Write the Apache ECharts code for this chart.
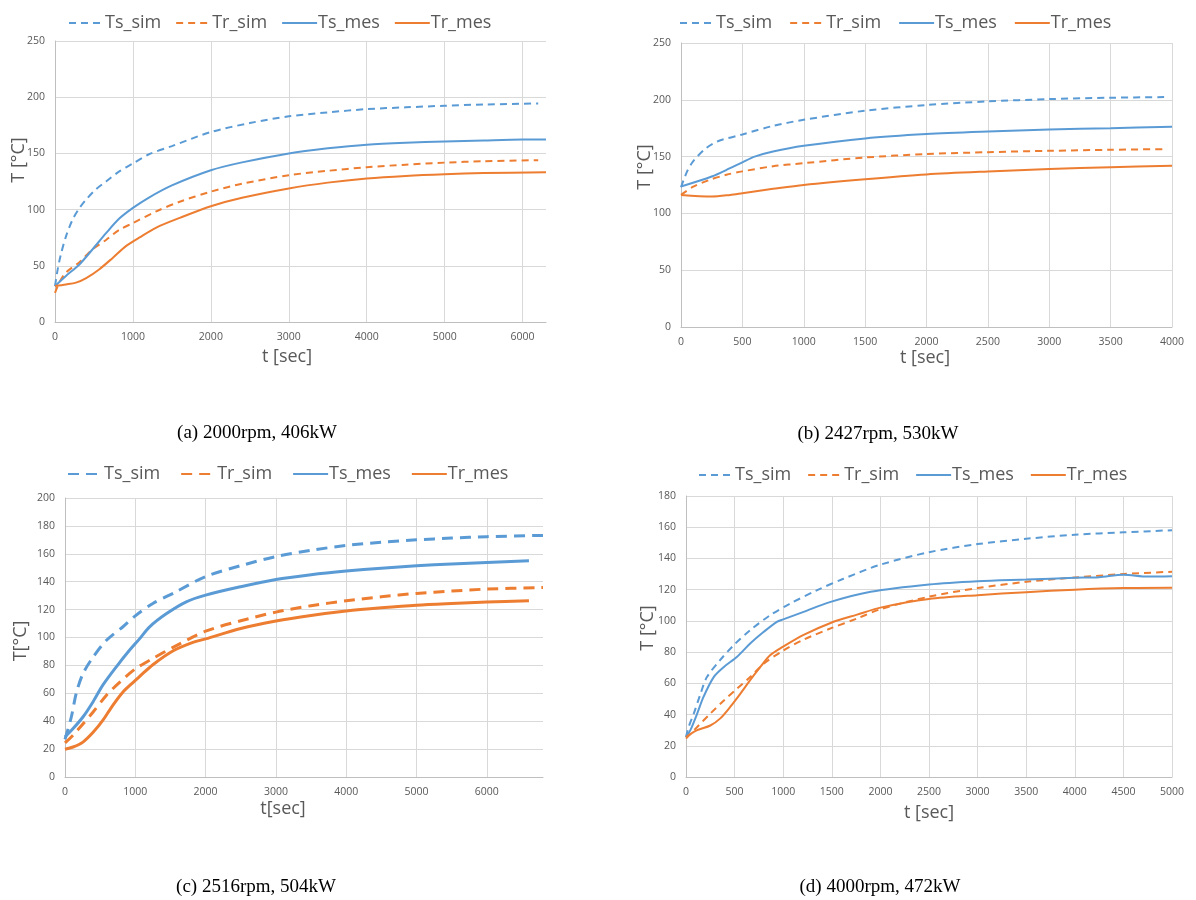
<!DOCTYPE html>
<html>
<head>
<meta charset="utf-8">
<script src="https://cdn.jsdelivr.net/npm/echarts@6/dist/echarts.min.js"></script>
<style>
html,body{margin:0;padding:0;background:#fff;}
.p{position:absolute;width:598px;height:450px;}
</style>
</head>
<body>
<div id="pa" class="p" style="left:0;top:0"></div>
<div id="pb" class="p" style="left:598px;top:0"></div>
<div id="pc" class="p" style="left:0;top:450px"></div>
<div id="pd" class="p" style="left:598px;top:450px"></div>
<script>
// ---------- DATA ----------
const seriesNames = ['Ts_sim', 'Tr_sim', 'Ts_mes', 'Tr_mes'];

// (a) 2000rpm, 406kW
const a_TsSim = [[0,32],[35,47],[75,60],[140,76],[225,91],[310,101],[400,109],[525,118],[655,125],[825,134],[1000,141],[1200,149],[1500,156.5],[2000,169],[2500,177],[3000,183],[3500,186.5],[4000,189.4],[4500,191],[5000,192.4],[5500,193.5],[6200,194.4]];
const a_TrSim = [[0,26],[55,35],[140,44],[310,53],[480,64.5],[655,73],[825,82],[1000,88],[1300,98.5],[1600,107],[2000,116],[2400,123],[3000,130.6],[3500,134.5],[4000,137.7],[4500,140],[5000,141.8],[5500,143],[6200,144]];
const a_TsMes = [[0,32],[140,41],[310,51],[480,64.5],[655,79],[825,92],[1000,101.5],[1200,110.5],[1500,121.5],[2000,135],[2400,142],[3000,150],[3500,154.5],[4000,157.8],[4500,159.5],[5000,160.5],[5500,161.5],[6000,162.3],[6300,162.3]];
const a_TrMes = [[0,32],[140,33.4],[270,35],[400,39],[570,47],[740,57],[910,67.5],[1080,75],[1300,84],[1600,92.6],[2000,103],[2400,110.5],[3000,118.8],[3500,124],[4000,127.7],[4500,130],[5000,131.5],[5500,132.5],[6300,133.3]];

// (b) 2427rpm, 530kW
const b_TsSim = [[0,123],[50,137],[100,146],[200,157],[300,163.5],[500,169.5],[750,177],[1000,182.4],[1500,190.4],[2000,195.4],[2500,198.6],[3000,200.6],[3500,201.8],[3950,202.4]];
const b_TrSim = [[0,116.3],[100,123.5],[230,129.4],[370,134],[500,137],[750,141.5],[1000,144.2],[1500,149.2],[2000,152.2],[2500,153.9],[3000,155.1],[3500,156],[3950,156.6]];
const b_TsMes = [[0,123.7],[250,132.5],[400,139.8],[500,145],[600,150],[750,154.5],[1000,159.5],[1500,166],[2000,169.8],[2500,172.1],[3000,173.9],[3500,175],[4000,176.3]];
const b_TrMes = [[0,116.3],[250,114.9],[400,116.3],[500,117.8],[750,121.6],[1000,125.1],[1500,130.1],[2000,134.3],[2500,136.9],[3000,139],[3500,140.7],[4000,141.9]];

// (c) 2516rpm, 504kW
const c_TsSim = [[0,27],[90,43],[160,60],[255,74],[400,86],[590,98],[825,107.7],[1000,115.5],[1250,124.4],[1550,132],[2000,143.7],[2500,151.5],[3000,158],[3500,162.5],[4000,166],[4500,168.3],[5000,170],[5500,171.3],[6000,172.3],[6800,173.2]];
const c_TrSim = [[0,24.4],[115,30],[255,38],[400,46.6],[590,58.6],[780,68],[1000,77.5],[1250,85],[1550,93.3],[2000,104.5],[2500,112],[3000,118.2],[3500,122.8],[4000,126.3],[4500,129.2],[5000,131.6],[5500,133.3],[6000,134.7],[6800,135.9]];
const c_TsMes = [[0,28.7],[115,34.7],[255,43],[400,54],[540,66],[730,79],[920,91],[1060,99],[1200,107.5],[1440,117],[1725,125.6],[2000,130.4],[2500,136.4],[3000,141.6],[3500,145],[4000,147.6],[4500,149.7],[5000,151.4],[5500,152.7],[6000,153.8],[6600,155]];
const c_TrMes = [[0,19.9],[115,21.5],[255,25],[400,32],[540,40.7],[680,51.4],[825,61],[950,67],[1060,72],[1250,80.5],[1540,90.5],[1820,96.5],[2000,99],[2500,106.5],[3000,111.8],[3500,115.8],[4000,119],[4500,121.3],[5000,123.2],[5500,124.4],[6000,125.4],[6600,126.3]];

// (d) 4000rpm, 472kW
const d_TsSim = [[0,25.6],[27,32],[80,40.6],[150,53.4],[215,64],[350,74.8],[490,84.4],[660,94],[865,103.6],[1070,111],[1350,119.7],[1620,127],[2000,136],[2500,144],[3000,149.2],[3500,152.6],[4000,155.2],[4500,156.7],[5000,158.1]];
const d_TrSim = [[0,24.6],[115,32],[250,40.6],[390,49],[525,56.6],[660,64],[800,72.6],[1000,81],[1210,88],[1500,95.5],[1760,101.5],[2000,107.5],[2500,115.5],[3000,121],[3500,125],[4000,127.8],[4500,130],[5000,131.5]];
const d_TsMes = [[0,25.6],[45,30],[115,40.6],[180,51.3],[285,64],[390,70.5],[525,77],[660,85.5],[800,93],[935,99.4],[1000,101],[1210,105.8],[1480,112],[1900,118.6],[2500,123.3],[3000,125.4],[3500,126.5],[4000,127.6],[4250,128],[4500,129.5],[4750,128.4],[5000,128.6]];
const d_TrMes = [[0,25.6],[115,30],[250,33],[350,37.4],[455,44.9],[560,53.4],[660,62],[765,70.5],[865,78],[1000,83.5],[1210,91],[1500,99],[1760,104],[2000,108.5],[2500,114],[3000,116.5],[3500,118.4],[4000,120],[4500,121],[5000,121.2]];

// axis settings (tick ranges)
const a_x = {max: 6300, interval: 1000}, a_y = {max: 250, interval: 50};
const b_x = {max: 4000, interval: 500},  b_y = {max: 250, interval: 50};
const c_x = {max: 6800, interval: 1000}, c_y = {max: 200, interval: 20};
const d_x = {max: 5000, interval: 500},  d_y = {max: 180, interval: 20};

const captions = ['(a) 2000rpm, 406kW', '(b) 2427rpm, 530kW', '(c) 2516rpm, 504kW', '(d) 4000rpm, 472kW'];
const xTitles = ['t [sec]', 't [sec]', 't[sec]', 't [sec]'];
const yTitles = ['T [°C]', 'T [°C]', 'T[°C]', 'T [°C]'];

// ---------- RENDER ----------
const BLUE = '#5B9BD5', ORANGE = '#ED7D31';
const FONT = 'Open Sans';
const TXT = '#595959';

function makePanel(domId, L) {
  const chart = echarts.init(document.getElementById(domId), null, {renderer: 'canvas'});
  const lw = L.lw;
  const dash = L.dash;
  const mk = (name, data, color, dashed) => ({
    name, type: 'line', data, symbol: 'none', smooth: 0.3,
    clip: false,
    lineStyle: {color, width: lw, type: dashed ? dash : 'solid', cap: 'butt'},
    itemStyle: {color}
  });
  const maxIsTick = (L.x.max % L.x.interval === 0);
  chart.setOption({
    animation: false,
    backgroundColor: '#fff',
    legend: {
      left: L.legLeft, top: L.legTop, itemWidth: L.legIcon, itemHeight: 14, itemGap: L.legGap,
      data: seriesNames,
      itemStyle: {opacity: 0},
      textStyle: {fontFamily: FONT, fontSize: 18, color: TXT, padding: [0,0,0,-4]},
      selectedMode: false
    },
    grid: {left: L.g[0], top: L.g[1], width: L.g[2], height: L.g[3]},
    xAxis: {
      type: 'value', min: 0, max: L.x.max, interval: L.x.interval,
      axisLine: {show: true, lineStyle: {color: '#BFBFBF', width: 1}},
      axisTick: {show: false},
      splitLine: {show: true, showMaxLine: maxIsTick, lineStyle: {color: '#D9D9D9', width: 1}},
      axisLabel: {fontFamily: FONT, fontSize: 10.5, color: TXT, margin: 10,
        formatter: v => (v % L.x.interval === 0 ? String(v) : '')}
    },
    yAxis: {
      type: 'value', min: 0, max: L.y.max, interval: L.y.interval,
      axisLine: {show: true, lineStyle: {color: '#BFBFBF', width: 1}},
      axisTick: {show: false},
      splitLine: {show: true, lineStyle: {color: '#D9D9D9', width: 1}},
      axisLabel: {fontFamily: FONT, fontSize: 10.5, color: TXT, margin: 10}
    },
    series: [
      mk('Ts_sim', L.data[0], BLUE, true),
      mk('Tr_sim', L.data[1], ORANGE, true),
      mk('Ts_mes', L.data[2], BLUE, false),
      mk('Tr_mes', L.data[3], ORANGE, false)
    ],
    graphic: [
      {type: 'text', x: L.yt[0], y: L.yt[1], rotation: Math.PI / 2,
        style: {text: L.ytitle, font: '18px "' + FONT + '"', fill: TXT, align: 'center', verticalAlign: 'middle'}},
      {type: 'text', x: L.xt[0], y: L.xt[1],
        style: {text: L.xtitle, font: '18px "' + FONT + '"', fill: TXT, align: 'center', verticalAlign: 'middle'}},
      {type: 'text', x: L.cap[0], y: L.cap[1],
        style: {text: L.caption, font: '19px "Liberation Serif"', fill: '#000', align: 'center', verticalAlign: 'middle'}}
    ]
  });
}

makePanel('pa', {
  data: [a_TsSim, a_TrSim, a_TsMes, a_TrMes], x: a_x, y: a_y, lw: 2, dash: [7, 5],
  g: [55, 41, 491, 281], legLeft: 63, legTop: 9, legIcon: 35, legGap: 14,
  yt: [19, 160], xt: [287, 357], cap: [257, 433],
  xtitle: xTitles[0], ytitle: yTitles[0], caption: captions[0]
});
makePanel('pb', {
  data: [b_TsSim, b_TrSim, b_TsMes, b_TrMes], x: b_x, y: b_y, lw: 2, dash: [7, 5],
  g: [83, 43, 491, 284], legLeft: 76, legTop: 9, legIcon: 35, legGap: 17,
  yt: [47, 167], xt: [327, 358], cap: [280, 434],
  xtitle: xTitles[1], ytitle: yTitles[1], caption: captions[1]
});
makePanel('pc', {
  data: [c_TsSim, c_TrSim, c_TsMes, c_TrMes], x: c_x, y: c_y, lw: 3, dash: [11, 7],
  g: [65, 48, 478, 279], legLeft: 62, legTop: 10, legIcon: 35, legGap: 20,
  yt: [21, 191], xt: [283, 359], cap: [256, 437],
  xtitle: xTitles[2], ytitle: yTitles[2], caption: captions[2]
});
makePanel('pd', {
  data: [d_TsSim, d_TrSim, d_TsMes, d_TrMes], x: d_x, y: d_y, lw: 2, dash: [7, 5],
  g: [88, 46, 486, 281], legLeft: 95, legTop: 11, legIcon: 35, legGap: 16,
  yt: [50, 178], xt: [331, 363], cap: [282, 437],
  xtitle: xTitles[3], ytitle: yTitles[3], caption: captions[3]
});
</script>
</body>
</html>
